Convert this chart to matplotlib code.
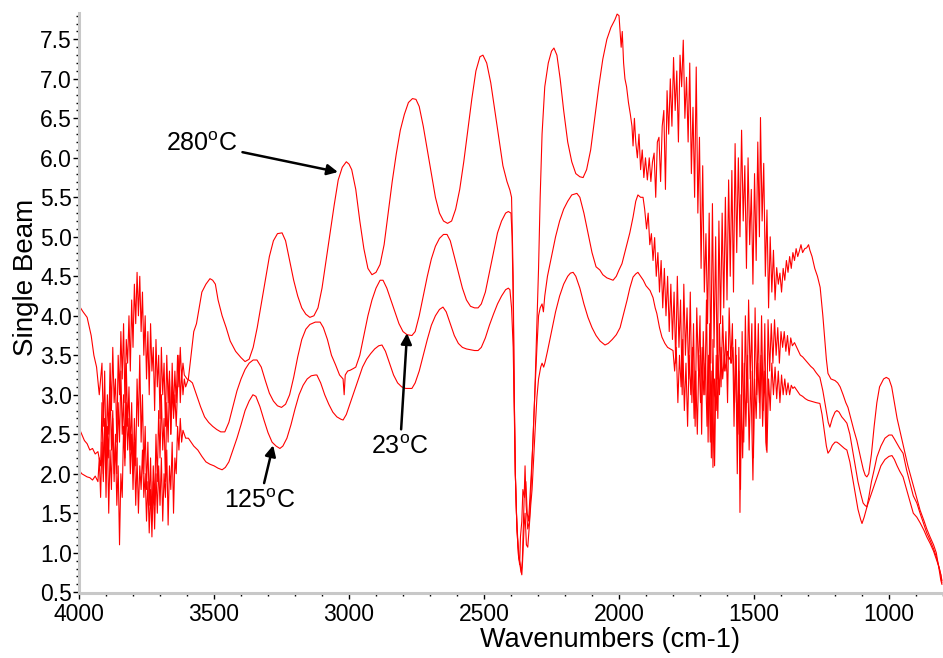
import numpy as np
import matplotlib.pyplot as plt
from matplotlib.ticker import MultipleLocator, FormatStrFormatter

plt.rcParams['font.family'] = ['Liberation Sans', 'DejaVu Sans']
plt.rcParams['mathtext.fontset'] = 'custom'
plt.rcParams['mathtext.rm'] = 'Liberation Sans'

# spectra: (wavenumber, single beam)
s280 = [
    (4000, 4.13), (3985, 4.05), (3970, 3.98), (3955, 3.75), (3945, 3.50), (3935, 3.35), (3925, 3.00),
    (3915, 3.4), (3910, 2.6), (3905, 3.3), (3900, 2.2), (3895, 3.0), (3890, 2.5), (3885, 3.4), (3880, 2.8),
    (3875, 3.6), (3870, 2.9), (3865, 3.2), (3860, 2.4), (3855, 3.5), (3850, 3.0), (3845, 3.8), (3840, 3.2),
    (3835, 3.9), (3830, 2.9), (3825, 3.7), (3820, 3.4), (3815, 4.0), (3810, 3.3), (3805, 4.2), (3800, 3.6),
    (3795, 4.4), (3790, 3.9), (3785, 4.55), (3780, 4.0), (3775, 4.5), (3770, 3.8), (3765, 4.3), (3760, 3.5),
    (3755, 4.0), (3750, 3.2), (3745, 3.8), (3740, 3.0), (3735, 3.9), (3730, 3.3), (3725, 3.6), (3720, 2.8),
    (3715, 3.7), (3710, 3.1), (3705, 3.5), (3700, 2.7), (3695, 3.6), (3690, 3.0), (3685, 3.4), (3680, 2.6),
    (3675, 3.5), (3670, 2.9), (3665, 3.3), (3660, 2.5), (3655, 3.1), (3650, 2.7), (3645, 3.0), (3640, 2.6),
    (3635, 3.1), (3630, 3.5), (3625, 2.9), (3620, 3.3), (3615, 3.0), (3610, 3.2), (3605, 3.1),
    (3595, 3.2), (3585, 3.5), (3575, 3.8), (3565, 3.9), (3555, 4.1), (3545, 4.3), (3530, 4.4), (3515, 4.47),
    (3505, 4.45), (3495, 4.4), (3485, 4.2), (3470, 4.0), (3455, 3.85), (3440, 3.68), (3420, 3.55),
    (3400, 3.47), (3385, 3.42), (3370, 3.45), (3355, 3.6), (3340, 3.85), (3325, 4.15), (3310, 4.45),
    (3295, 4.75), (3280, 4.95), (3265, 5.04), (3248, 5.05), (3235, 4.95), (3220, 4.7), (3205, 4.45),
    (3190, 4.25), (3175, 4.1), (3160, 4.02), (3145, 3.98), (3130, 4.0), (3115, 4.1), (3100, 4.35),
    (3085, 4.7), (3070, 5.05), (3055, 5.4), (3040, 5.72), (3025, 5.88), (3010, 5.95), (3000, 5.92),
    (2990, 5.85), (2975, 5.6), (2960, 5.2), (2945, 4.85), (2930, 4.6), (2915, 4.52), (2900, 4.55),
    (2885, 4.65), (2870, 4.9), (2855, 5.3), (2840, 5.7), (2825, 6.05), (2810, 6.35), (2795, 6.55),
    (2780, 6.7), (2765, 6.75), (2752, 6.74), (2740, 6.65), (2725, 6.4), (2710, 6.1), (2695, 5.8),
    (2680, 5.5), (2665, 5.3), (2650, 5.2), (2635, 5.17), (2620, 5.2), (2605, 5.35), (2590, 5.6),
    (2575, 5.95), (2560, 6.35), (2545, 6.75), (2530, 7.1), (2515, 7.28), (2504, 7.30), (2490, 7.2),
    (2475, 6.95), (2460, 6.6), (2445, 6.25), (2430, 5.9), (2415, 5.7), (2404, 5.59), (2398, 5.5),
    (2392, 4.5), (2388, 3.0), (2384, 2.0), (2378, 1.3), (2372, 0.95), (2366, 0.85), (2362, 0.75),
    (2358, 0.9), (2352, 1.6), (2348, 2.1), (2344, 1.6), (2338, 1.3), (2332, 1.4), (2326, 1.8),
    (2320, 2.3), (2312, 3.0), (2305, 3.8), (2298, 4.6), (2292, 5.5), (2285, 6.3), (2275, 6.9),
    (2262, 7.2), (2250, 7.35), (2241, 7.39), (2230, 7.3), (2218, 7.0), (2205, 6.6), (2190, 6.2),
    (2175, 5.95), (2160, 5.8), (2145, 5.76), (2133, 5.75), (2120, 5.85), (2105, 6.1), (2090, 6.5),
    (2075, 6.9), (2060, 7.25), (2045, 7.5), (2030, 7.65), (2015, 7.75), (2007, 7.82), (2000, 7.8),
    (1995, 7.55), (1992, 7.4), (1988, 7.6), (1983, 7.2), (1978, 7.0), (1972, 6.9), (1965, 6.7),
    (1958, 6.55), (1952, 6.4), (1948, 6.15), (1943, 6.5), (1938, 6.2), (1932, 6.0), (1926, 6.3),
    (1920, 5.85), (1914, 6.1), (1908, 5.75), (1902, 6.0),
    (1895, 5.72), (1888, 6.0), (1882, 5.7), (1876, 5.95), (1870, 6.06), (1864, 5.5), (1858, 6.2),
    (1852, 6.26), (1846, 5.7), (1840, 6.4), (1834, 6.6), (1828, 5.6), (1822, 6.85), (1816, 6.3),
    (1810, 7.0), (1804, 6.4), (1798, 7.27), (1792, 6.6), (1786, 7.1), (1780, 6.2), (1774, 7.3),
    (1768, 6.9), (1762, 7.49), (1756, 6.5), (1750, 7.02), (1744, 6.2), (1738, 7.2), (1732, 5.8),
    (1726, 6.64), (1720, 5.5), (1714, 7.15), (1708, 5.3), (1702, 6.26), (1696, 4.6), (1690, 5.9),
    (1684, 4.3), (1678, 5.04), (1672, 3.9), (1666, 5.3), (1660, 3.4), (1654, 5.42), (1648, 3.6),
    (1642, 5.0), (1636, 3.2), (1630, 5.2), (1624, 3.9), (1618, 5.3), (1612, 4.1), (1606, 5.5),
    (1600, 4.2), (1594, 5.72), (1588, 4.5), (1582, 5.84), (1576, 4.3), (1570, 6.18), (1564, 4.8),
    (1558, 6.0), (1552, 5.0), (1546, 6.35), (1540, 5.2), (1534, 5.9), (1528, 4.6), (1522, 6.0),
    (1516, 4.9), (1510, 5.6), (1504, 4.4), (1498, 5.8), (1492, 4.7), (1486, 6.2), (1480, 5.0),
    (1476, 6.51), (1470, 5.2), (1464, 5.93), (1458, 4.5), (1452, 5.34), (1446, 4.1), (1440, 5.0),
    (1434, 4.3), (1428, 4.83), (1422, 4.2), (1416, 4.61), (1410, 4.4), (1404, 4.54), (1398, 4.3),
    (1392, 4.6), (1386, 4.45), (1380, 4.7), (1374, 4.55), (1368, 4.75), (1362, 4.6), (1356, 4.8),
    (1350, 4.7), (1344, 4.85), (1338, 4.75), (1332, 4.82), (1326, 4.9), (1320, 4.8), (1312, 4.85),
    (1305, 4.86), (1298, 4.9), (1293, 4.83), (1285, 4.75), (1275, 4.6), (1265, 4.5), (1255, 4.36),
    (1245, 4.0), (1238, 3.7), (1232, 3.45), (1226, 3.27), (1215, 3.2), (1200, 3.18), (1190, 3.15),
    (1181, 3.1), (1170, 3.0), (1160, 2.9), (1152, 2.84), (1140, 2.68), (1130, 2.55), (1119, 2.42),
    (1105, 2.2), (1095, 2.05), (1088, 1.98), (1082, 1.96), (1075, 2.0), (1065, 2.25), (1055, 2.6),
    (1045, 2.9), (1035, 3.1), (1020, 3.2), (1010, 3.22), (1000, 3.2), (990, 3.1), (980, 2.9),
    (970, 2.7), (960, 2.55), (950, 2.4), (940, 2.25), (930, 2.1), (922, 2.0), (910, 1.85),
    (898, 1.7), (885, 1.54), (870, 1.4), (860, 1.3), (848, 1.2), (835, 1.1), (825, 1.0),
    (815, 0.8), (808, 0.65), (804, 0.6),
]

s23 = [
    (4000, 2.58), (3990, 2.50), (3980, 2.42), (3970, 2.38), (3960, 2.30), (3950, 2.32), (3940, 2.25),
    (3930, 2.28), (3920, 2.1), (3915, 2.9), (3910, 2.0), (3905, 2.7), (3900, 1.7), (3895, 2.6),
    (3890, 2.2), (3885, 3.1), (3880, 2.3), (3875, 2.8), (3870, 1.9), (3865, 2.5), (3860, 2.0),
    (3855, 2.9), (3850, 2.4), (3845, 3.3), (3840, 2.5), (3835, 3.0), (3830, 2.2), (3825, 3.4),
    (3820, 2.6), (3815, 3.1), (3810, 2.3), (3805, 2.9), (3800, 2.0), (3795, 2.7), (3790, 2.1),
    (3785, 3.2), (3780, 2.6), (3775, 3.5), (3770, 2.4), (3765, 3.0), (3760, 2.0), (3755, 2.6),
    (3750, 1.8), (3745, 2.4), (3740, 1.6), (3735, 2.2), (3730, 1.4), (3725, 2.1), (3720, 1.6),
    (3715, 2.5), (3710, 1.9), (3705, 2.8), (3700, 2.2), (3695, 3.0), (3690, 2.3), (3685, 2.7),
    (3680, 1.9), (3675, 2.9), (3670, 2.4), (3665, 3.2), (3660, 2.5), (3655, 3.4), (3650, 2.8),
    (3645, 3.3), (3640, 2.9), (3635, 3.5), (3630, 3.1), (3625, 3.6), (3620, 3.2), (3615, 3.4),
    (3610, 3.25), (3600, 3.2), (3590, 3.18), (3580, 3.15), (3565, 3.0), (3550, 2.85), (3535, 2.72),
    (3520, 2.65), (3505, 2.6), (3490, 2.56), (3475, 2.53), (3460, 2.53), (3445, 2.65), (3430, 2.85),
    (3415, 3.05), (3400, 3.2), (3385, 3.32), (3370, 3.4), (3355, 3.44), (3341, 3.44), (3325, 3.35),
    (3310, 3.18), (3295, 3.02), (3280, 2.92), (3265, 2.86), (3250, 2.84), (3235, 2.88), (3220, 3.0),
    (3205, 3.22), (3190, 3.48), (3175, 3.7), (3160, 3.83), (3145, 3.89), (3125, 3.92), (3107, 3.92),
    (3095, 3.85), (3080, 3.7), (3065, 3.5), (3050, 3.38), (3035, 3.25), (3022, 3.2), (3018, 3.0),
    (3014, 3.25), (3005, 3.3), (2996, 3.31), (2985, 3.33), (2975, 3.35), (2960, 3.5), (2945, 3.75),
    (2930, 4.0), (2915, 4.2), (2900, 4.35), (2885, 4.45), (2874, 4.45), (2860, 4.35), (2845, 4.2),
    (2830, 4.05), (2815, 3.9), (2800, 3.8), (2785, 3.76), (2767, 3.75), (2755, 3.8), (2740, 4.0),
    (2725, 4.25), (2710, 4.5), (2695, 4.72), (2680, 4.88), (2665, 4.98), (2650, 5.03), (2637, 5.03),
    (2625, 4.95), (2610, 4.75), (2595, 4.55), (2580, 4.35), (2565, 4.2), (2550, 4.12), (2535, 4.1),
    (2522, 4.1), (2510, 4.15), (2495, 4.3), (2480, 4.55), (2465, 4.8), (2450, 5.05), (2435, 5.2),
    (2420, 5.3), (2410, 5.32), (2400, 5.3), (2396, 5.0), (2392, 4.2), (2388, 3.0), (2384, 2.0),
    (2378, 1.3), (2372, 0.95), (2368, 0.85), (2365, 1.2), (2360, 1.4), (2356, 1.8), (2350, 1.7),
    (2345, 1.9), (2340, 1.5), (2335, 1.4), (2330, 1.7), (2325, 2.0), (2319, 2.4), (2312, 3.0),
    (2304, 3.6), (2298, 4.0), (2292, 4.1), (2285, 4.15), (2280, 4.05), (2275, 4.25), (2265, 4.5),
    (2250, 4.75), (2235, 5.0), (2220, 5.2), (2205, 5.35), (2190, 5.45), (2175, 5.53), (2156, 5.55),
    (2145, 5.5), (2130, 5.3), (2115, 5.05), (2100, 4.8), (2085, 4.62), (2071, 4.58), (2060, 4.52),
    (2045, 4.48), (2030, 4.46), (2022, 4.45), (2010, 4.5), (2000, 4.58), (1989, 4.66), (1975, 4.85),
    (1960, 5.05), (1948, 5.25), (1938, 5.45), (1930, 5.53), (1920, 5.5), (1911, 5.5), (1905, 5.35),
    (1898, 5.1), (1892, 5.3), (1886, 4.9), (1880, 5.04), (1874, 4.7), (1868, 4.99), (1862, 4.5),
    (1856, 4.8), (1850, 4.3), (1844, 4.7), (1838, 4.1), (1832, 4.6), (1826, 4.0), (1820, 4.5),
    (1814, 3.8), (1808, 4.4), (1802, 3.7), (1796, 4.3), (1790, 3.4), (1784, 4.5), (1778, 3.6),
    (1772, 4.2), (1766, 3.0), (1760, 4.4), (1754, 3.5), (1748, 4.1), (1742, 3.2), (1736, 4.3),
    (1730, 2.9), (1724, 3.9), (1718, 2.6), (1712, 4.1), (1706, 3.3), (1700, 4.0), (1694, 2.5),
    (1688, 3.8), (1682, 3.0), (1676, 4.2), (1670, 2.4), (1664, 3.9), (1658, 2.2), (1652, 3.7),
    (1646, 2.1), (1640, 3.5), (1634, 2.7), (1628, 3.9), (1622, 3.1), (1616, 4.0), (1610, 3.3),
    (1604, 3.8), (1598, 2.9), (1592, 4.1), (1586, 3.4), (1580, 3.9), (1574, 2.6), (1568, 3.7),
    (1562, 2.0), (1556, 3.6), (1550, 1.8), (1544, 3.8), (1538, 2.4), (1532, 4.0), (1526, 2.9),
    (1520, 4.2), (1514, 3.2), (1508, 3.9), (1502, 2.2), (1496, 4.1), (1490, 3.0), (1484, 3.9),
    (1478, 2.7), (1472, 4.0), (1466, 2.8), (1460, 3.9), (1454, 2.3), (1448, 3.95), (1442, 3.3),
    (1436, 3.9), (1430, 3.4), (1424, 3.95), (1418, 3.5), (1412, 3.85), (1406, 3.4), (1400, 3.8),
    (1394, 3.6), (1388, 3.8), (1382, 3.55), (1376, 3.75), (1370, 3.5), (1364, 3.72), (1358, 3.62),
    (1350, 3.66), (1342, 3.6), (1335, 3.55), (1328, 3.5), (1320, 3.48), (1310, 3.44), (1300, 3.4),
    (1290, 3.36), (1280, 3.33), (1270, 3.28), (1256, 3.22), (1245, 3.05), (1235, 2.85), (1225, 2.65),
    (1219, 2.59), (1210, 2.7), (1200, 2.78), (1193, 2.8), (1185, 2.78), (1175, 2.72), (1165, 2.68),
    (1156, 2.64), (1145, 2.5), (1135, 2.3), (1125, 2.1), (1115, 1.9), (1105, 1.75), (1096, 1.63),
    (1089, 1.6), (1082, 1.58), (1075, 1.7), (1065, 1.9), (1055, 2.05), (1045, 2.21), (1030, 2.35),
    (1015, 2.45), (1000, 2.49), (989, 2.49), (980, 2.44), (970, 2.38), (960, 2.32), (948, 2.26),
    (935, 2.05), (920, 1.85), (910, 1.72), (897, 1.63), (885, 1.5), (870, 1.35), (860, 1.25),
    (848, 1.16), (835, 1.05), (825, 0.95), (815, 0.82), (808, 0.72), (804, 0.65),
]

s125 = [
    (4000, 2.05), (3990, 2.0), (3980, 1.98), (3970, 1.96), (3960, 1.95), (3950, 1.92), (3940, 1.97),
    (3930, 1.90), (3925, 2.2), (3920, 1.7), (3915, 2.4), (3910, 1.9), (3905, 2.6), (3900, 2.0),
    (3895, 2.5), (3890, 1.5), (3885, 2.3), (3880, 1.8), (3875, 2.7), (3870, 2.0), (3865, 2.4),
    (3860, 1.6), (3855, 2.1), (3850, 1.1), (3845, 2.0), (3840, 1.7), (3835, 2.6), (3830, 2.1),
    (3825, 2.9), (3820, 2.3), (3815, 2.7), (3810, 2.0), (3805, 2.5), (3800, 1.8), (3795, 2.4),
    (3790, 1.6), (3785, 2.2), (3780, 1.5), (3775, 2.1), (3770, 1.8), (3765, 2.3), (3760, 1.7),
    (3755, 2.0), (3750, 1.4), (3745, 1.9), (3740, 1.25), (3735, 1.8), (3730, 1.2), (3725, 1.9),
    (3720, 1.3), (3715, 2.0), (3710, 1.5), (3705, 2.1), (3700, 1.6), (3695, 2.2), (3690, 1.4),
    (3685, 2.0), (3680, 1.7), (3675, 2.3), (3670, 1.35), (3665, 2.1), (3660, 1.8), (3655, 2.4),
    (3650, 1.5), (3645, 2.2), (3640, 2.0), (3635, 2.6), (3630, 2.3), (3625, 2.7), (3620, 2.4),
    (3615, 2.55), (3605, 2.45), (3595, 2.45), (3585, 2.4), (3575, 2.35), (3560, 2.3), (3545, 2.22),
    (3530, 2.15), (3515, 2.12), (3500, 2.1), (3485, 2.07), (3470, 2.05), (3458, 2.08), (3445, 2.15),
    (3430, 2.3), (3415, 2.45), (3400, 2.62), (3385, 2.8), (3370, 2.92), (3356, 3.0), (3345, 2.98),
    (3330, 2.85), (3315, 2.68), (3300, 2.52), (3285, 2.4), (3270, 2.35), (3256, 2.32), (3245, 2.35),
    (3230, 2.45), (3215, 2.62), (3200, 2.82), (3185, 3.0), (3170, 3.12), (3155, 3.2), (3140, 3.24),
    (3125, 3.25), (3119, 3.25), (3105, 3.15), (3090, 3.0), (3075, 2.88), (3060, 2.78), (3045, 2.72),
    (3030, 2.69), (3022, 2.68), (3010, 2.75), (2995, 2.9), (2980, 3.05), (2965, 3.2), (2950, 3.35),
    (2935, 3.45), (2920, 3.52), (2905, 3.58), (2890, 3.62), (2878, 3.63), (2865, 3.55), (2850, 3.4),
    (2835, 3.25), (2820, 3.15), (2805, 3.1), (2790, 3.08), (2767, 3.08), (2755, 3.15), (2740, 3.3),
    (2725, 3.5), (2710, 3.7), (2695, 3.88), (2680, 4.0), (2665, 4.08), (2652, 4.11), (2640, 4.05),
    (2625, 3.9), (2610, 3.75), (2595, 3.65), (2580, 3.6), (2565, 3.58), (2550, 3.57), (2535, 3.56),
    (2522, 3.56), (2510, 3.6), (2495, 3.72), (2480, 3.88), (2465, 4.02), (2450, 4.15), (2435, 4.25),
    (2420, 4.33), (2410, 4.35), (2404, 4.33), (2398, 4.1), (2392, 3.6), (2388, 2.8), (2384, 2.0),
    (2380, 1.5), (2374, 1.1), (2370, 0.95), (2365, 0.8), (2360, 0.72), (2357, 0.9), (2352, 1.3),
    (2348, 1.5), (2343, 1.1), (2338, 1.07), (2333, 1.3), (2327, 1.6), (2322, 1.8), (2316, 2.2),
    (2310, 2.6), (2304, 2.97), (2298, 3.2), (2290, 3.35), (2285, 3.4), (2279, 3.35), (2274, 3.41),
    (2265, 3.55), (2250, 3.8), (2235, 4.05), (2220, 4.25), (2205, 4.4), (2190, 4.5), (2180, 4.54),
    (2170, 4.55), (2160, 4.5), (2145, 4.35), (2130, 4.15), (2115, 3.98), (2100, 3.85), (2085, 3.75),
    (2070, 3.68), (2052, 3.63), (2040, 3.65), (2025, 3.7), (2010, 3.76), (1996, 3.85), (1985, 4.0),
    (1970, 4.2), (1960, 4.35), (1948, 4.49), (1938, 4.53), (1930, 4.55), (1920, 4.5), (1910, 4.45),
    (1900, 4.38), (1885, 4.32), (1874, 4.23), (1866, 4.1), (1860, 4.03), (1850, 3.85), (1841, 3.73),
    (1830, 3.65), (1820, 3.6), (1810, 3.58), (1800, 3.56),
    (1794, 3.3), (1788, 3.6), (1782, 2.9), (1776, 3.5), (1770, 3.1), (1764, 3.7), (1758, 2.8),
    (1752, 3.4), (1746, 2.6), (1740, 3.5), (1734, 3.0), (1728, 3.6), (1722, 2.7), (1716, 3.3),
    (1710, 2.5), (1704, 3.5), (1698, 2.9), (1692, 3.6), (1686, 3.0), (1680, 3.4), (1674, 2.6),
    (1668, 3.5), (1662, 2.4), (1656, 3.3), (1652, 2.08), (1646, 3.2), (1640, 2.8), (1634, 3.5),
    (1628, 3.0), (1622, 3.6), (1616, 3.2), (1610, 3.5), (1604, 3.3), (1598, 3.55), (1592, 3.45),
    (1589, 3.47), (1584, 3.4), (1578, 3.6), (1572, 2.9), (1566, 3.5), (1560, 2.5), (1556, 3.3),
    (1552, 1.51), (1548, 3.0), (1542, 2.2), (1536, 3.4), (1530, 2.6), (1524, 3.5), (1518, 2.3),
    (1512, 3.3), (1504, 1.92), (1498, 3.2), (1492, 2.7), (1486, 3.4), (1480, 2.9), (1474, 3.5),
    (1468, 2.6), (1462, 3.3), (1456, 2.4), (1452, 2.27), (1446, 3.2), (1440, 2.8), (1434, 3.4),
    (1428, 3.0), (1422, 3.35), (1416, 2.95), (1410, 3.3), (1404, 2.9), (1398, 3.25), (1392, 3.0),
    (1386, 3.2), (1380, 3.0), (1374, 3.15), (1368, 3.0), (1362, 3.12), (1356, 3.08), (1350, 3.1),
    (1340, 3.05), (1330, 3.0), (1320, 2.98), (1310, 2.95), (1300, 2.93), (1290, 2.92), (1280, 2.91),
    (1270, 2.9), (1256, 2.89), (1248, 2.75), (1240, 2.55), (1232, 2.35), (1226, 2.26), (1218, 2.3),
    (1210, 2.36), (1200, 2.4), (1193, 2.4), (1185, 2.38), (1175, 2.35), (1165, 2.32), (1156, 2.3),
    (1145, 2.15), (1135, 1.95), (1125, 1.75), (1115, 1.55), (1105, 1.42), (1100, 1.37), (1092, 1.45),
    (1080, 1.6), (1070, 1.7), (1060, 1.8), (1045, 1.95), (1030, 2.1), (1015, 2.18), (1000, 2.22),
    (989, 2.23), (980, 2.18), (970, 2.1), (960, 2.03), (948, 1.96), (935, 1.8), (920, 1.62),
    (910, 1.5), (897, 1.45), (885, 1.38), (870, 1.28), (860, 1.2), (848, 1.12), (835, 1.02),
    (825, 0.92), (815, 0.82), (808, 0.72), (804, 0.62),
]

labels = ['280$^{\\rm o}$C', '23$^{\\rm o}$C', '125$^{\\rm o}$C']

fig = plt.figure(figsize=(9.43, 6.58), dpi=100)
ax = fig.add_axes([0.0838, 0.0988, 0.9162, 0.881])

for s in [s280, s23, s125]:
    wn, sb = np.array(s).T
    ax.plot(wn, sb, color='#ff0000', lw=0.8)

ax.set_xlim(4000, 800)
ax.set_ylim(0.49, 7.83)

ax.xaxis.set_major_locator(MultipleLocator(500))
ax.xaxis.set_minor_locator(MultipleLocator(100))
ax.yaxis.set_major_locator(MultipleLocator(0.5))
ax.yaxis.set_minor_locator(MultipleLocator(0.1))
ax.yaxis.set_major_formatter(FormatStrFormatter('%.1f'))

for side in ['top', 'right']:
    ax.spines[side].set_visible(False)
for side in ['left', 'bottom']:
    ax.spines[side].set_color('#c8c8c8')
    ax.spines[side].set_linewidth(2.2)

ax.tick_params(which='major', direction='out', length=4, width=1, color='black', labelsize=16.5)
ax.tick_params(which='minor', direction='out', length=2.5, width=1, color='black')
ax.tick_params(axis='y', which='major', pad=1)
ax.tick_params(axis='x', which='major', pad=3)

ax.set_xlabel('Wavenumbers (cm-1)', fontsize=19.5)
ax.set_ylabel('Single Beam', fontsize=20)
ax.xaxis.set_label_coords(0.615, -0.058)
ax.yaxis.set_label_coords(-0.046, 0.545)

arrow = dict(arrowstyle='-|>', color='black', lw=1.8, mutation_scale=16, shrinkA=2, shrinkB=0)
ax.annotate(labels[0], xy=(3041, 5.82), xytext=(3415, 6.18), fontsize=18,
            ha='right', va='center', arrowprops=arrow)
ax.annotate(labels[1], xy=(2785, 3.78), xytext=(2811, 2.34), fontsize=18,
            ha='center', va='center', arrowprops=arrow)
ax.annotate(labels[2], xy=(3281, 2.36), xytext=(3330, 1.66), fontsize=18,
            ha='center', va='center', arrowprops=arrow)

fig.savefig('out.png', dpi=100)
